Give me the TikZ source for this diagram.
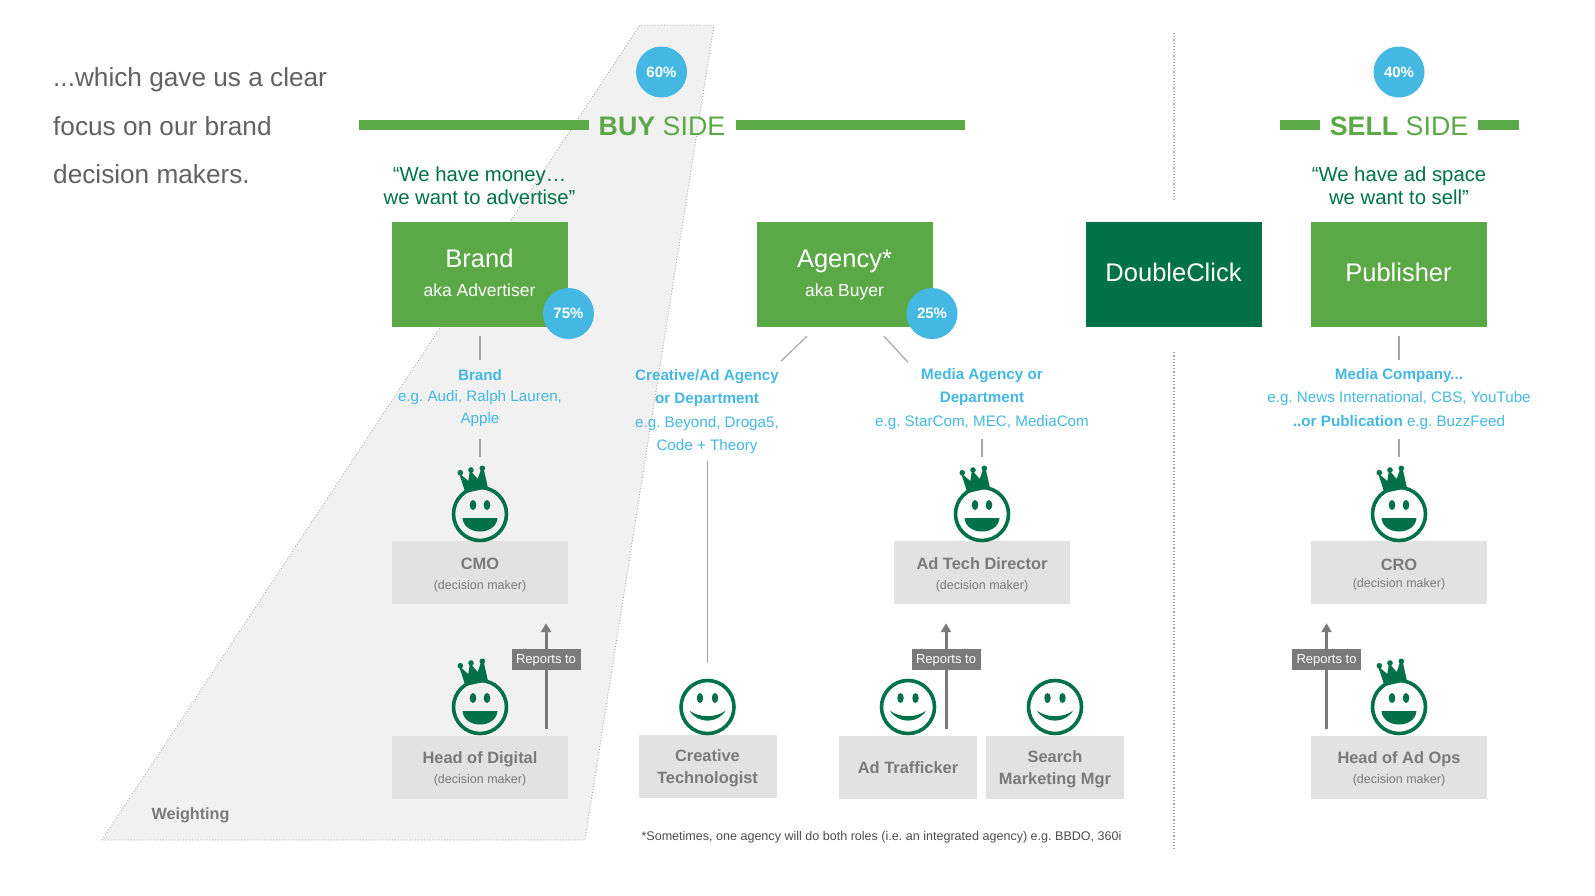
\documentclass[tikz,border=0pt]{standalone}
\usepackage{fontspec}
\setmainfont{Liberation Sans}
\usetikzlibrary{arrows.meta}
\definecolor{leaf}{HTML}{5AA846}
\definecolor{forest}{HTML}{007148}
\definecolor{sky}{HTML}{44B8E2}
\definecolor{panel}{HTML}{E2E2E2}
\definecolor{wedge}{HTML}{F1F1F1}
\definecolor{slate}{HTML}{7A7A7A}

\begin{document}
\frenchspacing
\begin{tikzpicture}
    [
        x = 1pt, y = -1pt,
        every node/.append style = {inner sep = 0, align = center},
        topbox/.style = {minimum width = 176pt, minimum height = 105pt, fill = leaf, text = white},
        wordbox/.style = {topbox, text height = 18pt, text depth = 4pt, font = \fontsize{25.5}{30}\selectfont},
        topname/.style = {anchor = base, text = white, font = \fontsize{25.5}{30}\selectfont},
        topnote/.style = {anchor = base, text = white, font = \fontsize{17.5}{20}\selectfont},
        rolebox/.style = {minimum width = 176pt, minimum height = 63pt, fill = panel},
        smallbox/.style = {minimum width = 138pt, minimum height = 63pt, fill = panel},
        badge/.style = {circle, minimum size = 51pt, fill = sky, text = white, font = \fontsize{15}{18}\selectfont\bfseries},
        quote/.style = {text = forest, font = \fontsize{20.3}{23}\selectfont},
        info/.style = {text = sky, font = \fontsize{15.2}{23.4}\selectfont},
        bar/.style = {leaf, line width = 10pt},
        link/.style = {draw = black!35, line width = 1.2pt},
        divider/.style = {draw = black!35, dotted, line width = 1.2pt},
        reports/.style = {draw = slate, line width = 3pt, -{Triangle[length = 9pt, width = 10pt]}},
        tag/.style = {fill = slate, text = white, minimum width = 69pt, minimum height = 21pt,
                text height = 10.5pt, text depth = 1.5pt, font = \fontsize{13}{15}\selectfont},
        role/.style = {text = slate, font = \fontsize{16.4}{22}\selectfont\bfseries},
        maker/.style = {text = slate, font = \fontsize{12.5}{15}\selectfont},
        plain face/.pic = {
            \draw [forest, line width = 3.6pt] (0, 0) circle (26.5);
            \fill [forest] (-7.5, -9) ellipse (3.2 and 5) (7.5, -9) ellipse (3.2 and 5);
            \fill [forest] (-18, 3.6) .. controls (-9, 11) and (9, 11) .. (18, 3.6)
                .. controls (10, 17) and (-10, 17) .. (-18, 3.6);
        },
        crown face/.pic = {
            \draw [forest, line width = 3.6pt] (0, 0) circle (26.5);
            \fill [forest] (-7, -9) ellipse (3.3 and 5) (7, -9) ellipse (3.3 and 5);
            \fill [forest] (-17.5, 4) -- (17.5, 4) .. controls (16, 22) and (-16, 22) .. (-17.5, 4);
            \fill [forest] (-14.5, -21) -- (-21, -41) -- (-11.7, -33) -- (-10, -44) -- (-2.3, -35) -- (1.5, -46) -- (3.5, -46) -- (8, -26) -- cycle;
            \fill [forest] (-19.7, -41.3) circle (2.8) (-9, -44) circle (2.8) (2.3, -45.7) circle (2.8);
        }]

    \useasboundingbox (0, 0) rectangle (1595, 895);

    % weighting wedge goes under everything else
    \draw [fill = wedge, draw = black!35, dotted, line width = 0.9pt]
        (102, 840) -- (585, 840) -- (714, 25) -- (640, 25) -- cycle;

    \node (headline) at (53, 126) [anchor = west, align = left, text = black!62, font = \fontsize{26.2}{48.5}\selectfont]
        {...which gave us a clear\\focus on our brand\\decision makers.};

    % side banners
    \node (buy) at (662, 126) [text = leaf, font = \fontsize{26.8}{32}\selectfont] {\textbf{BUY} SIDE};
    \node (sell) at (1399, 126) [text = leaf, font = \fontsize{26.8}{32}\selectfont] {\textbf{SELL} SIDE};
    \coordinate (buyleft) at (359, 125);
    \coordinate (buyright) at (965, 125);
    \coordinate (sellleft) at (1280, 125);
    \coordinate (sellright) at (1519, 125);
    \draw [bar] (buyleft) -- ([xshift = -10pt]buy.west |- buyleft);
    \draw [bar] ([xshift = 10pt]buy.east |- buyright) -- (buyright);
    \draw [bar] (sellleft) -- ([xshift = -10pt]sell.west |- sellleft);
    \draw [bar] ([xshift = 10pt]sell.east |- sellright) -- (sellright);
    \node (buyshare) at (661.5, 72) [badge] {60\%};
    \node (sellshare) at (1399, 72) [badge] {40\%};

    \node (buyquote) at (479.5, 186) [quote] {“We have money…\\we want to advertise”};
    \node (sellquote) at (1399, 186) [quote] {“We have ad space\\we want to sell”};

    % top row
    \node (brand) at (480, 274.5) [topbox] {};
    \node (agency) at (844.5, 274.5) [topbox] {};
    \node (doubleclick) at (1173.5, 274.5) [wordbox, fill = forest] {DoubleClick};
    \node (publisher) at (1398.5, 274.5) [wordbox] {Publisher};
    \node (brandname) at (479.5, 267.5) [topname] {Brand};
    \node (brandnote) at (479.5, 296.5) [topnote] {aka Advertiser};
    \node (agencyname) at (844.5, 267.5) [topname] {Agency*};
    \node (agencynote) at (844.5, 296.5) [topnote] {aka Buyer};
    \node (brandshare) at (568.5, 313.5) [badge] {75\%};
    \node (agencyshare) at (932, 313.5) [badge] {25\%};

    \coordinate (divtop) at (1174, 33);
    \coordinate (divbottom) at (1174, 849);
    \draw [divider] (divtop) -- ([yshift = 22pt]doubleclick.north -| divtop);
    \draw [divider] ([yshift = -25pt]doubleclick.south -| divtop) -- (divbottom);

    % descriptions
    \node (brandinfo) at (480, 398) [info, font = \fontsize{15.2}{21.8}\selectfont] {\textbf{Brand}\\e.g. Audi, Ralph Lauren,\\Apple};
    \node (creativeinfo) at (707, 411.5) [info] {\textbf{Creative/Ad Agency}\\\textbf{or Department}\\e.g. Beyond, Droga5,\\Code + Theory};
    \node (mediainfo) at (982, 399) [info] {\textbf{Media Agency or}\\\textbf{Department}\\e.g. StarCom, MEC, MediaCom};
    \node (pubinfo) at (1399, 399) [info] {\textbf{Media Company...}\\e.g. News International, CBS, YouTube\\\textbf{..or Publication} e.g. BuzzFeed};

    % role boxes
    \node (cmo) at (480, 572.5) [rolebox] {};
    \node (adtech) at (982, 572.5) [rolebox] {};
    \node (cro) at (1398.5, 572.5) [rolebox] {};
    \node (digital) at (480, 767) [rolebox] {};
    \node (adops) at (1398.5, 767) [rolebox] {};
    \node (technologist) at (707.5, 766.5) [smallbox] {};
    \node (trafficker) at (908, 767) [smallbox] {};
    \node (searchmgr) at (1055, 767) [smallbox] {};

    \node (technologistname) at (707.5, 768.5) [role] {Creative\\Technologist};
    \node (traffickername) at (908, 768) [role] {Ad Trafficker};
    \node (searchname) at (1055, 769) [role] {Search\\Marketing Mgr};
    \node (cmoname) at (480, 564) [role] {CMO};
    \node (cmonote) at (480, 586) [maker] {(decision maker)};
    \node (adtechname) at (982, 564) [role] {Ad Tech Director};
    \node (adtechnote) at (982, 586) [maker] {(decision maker)};
    \node (croname) at (1399, 565) [role] {CRO};
    \node (cronote) at (1399, 584) [maker] {(decision maker)};
    \node (digitalname) at (480, 759) [role] {Head of Digital};
    \node (digitalnote) at (480, 780) [maker] {(decision maker)};
    \node (adopsname) at (1399, 759) [role] {Head of Ad Ops};
    \node (adopsnote) at (1399, 780) [maker] {(decision maker)};

    % faces
    \pic at (480, 514) {crown face};
    \pic at (982, 514) {crown face};
    \pic at (1399, 514) {crown face};
    \pic at (480, 707) {crown face};
    \pic at (1399, 707) {crown face};
    \pic at (707.5, 707) {plain face};
    \pic at (908, 707) {plain face};
    \pic at (1055, 707) {plain face};

    % links
    \coordinate (creativeend) at (707.5, 663);
    \draw [link] ([yshift = -9pt]brand.south -| brandinfo) -- ([yshift = 9pt]brandinfo.north);
    \draw [link] ([yshift = -12pt]brandinfo.south) -- ([yshift = -30pt]brandinfo.south);
    \draw [link] ([xshift = -37.5pt, yshift = -9pt]agency.south) -- ([xshift = 74pt, yshift = 8pt]creativeinfo.north);
    \draw [link] ([xshift = 39.5pt, yshift = -9pt]agency.south) -- ([xshift = -74pt, yshift = 6pt]mediainfo.north);
    \draw [link] ([yshift = -7pt]creativeinfo.south -| creativeend) -- (creativeend);
    \draw [link] ([yshift = -9pt]mediainfo.south) -- ([yshift = -27pt]mediainfo.south);
    \draw [link] ([yshift = -9pt]publisher.south -| pubinfo) -- ([yshift = 8pt]pubinfo.north);
    \draw [link] ([yshift = -9pt]pubinfo.south) -- ([yshift = -27pt]pubinfo.south);

    % reports to
    \draw [reports] ([shift = {(66, -6)}]digital.north) -- ([shift = {(66, 19)}]cmo.south)
        node (digitaltag) [tag, pos = 0.66] {Reports to};
    \draw [reports] ([shift = {(38, -6)}]trafficker.north) -- ([shift = {(-36, 19)}]adtech.south)
        node (traffickertag) [tag, pos = 0.66] {Reports to};
    \draw [reports] ([shift = {(-72, -6)}]adops.north) -- ([shift = {(-72, 19)}]cro.south)
        node (adopstag) [tag, pos = 0.66] {Reports to};

    \node (weighting) at (190.5, 815) [text = slate, font = \fontsize{16.2}{20}\selectfont\bfseries] {Weighting};
    \node (footnote) at (881.5, 837) [text = black!70, font = \fontsize{12.55}{16}\selectfont]
        {*Sometimes, one agency will do both roles (i.e. an integrated agency) e.g. BBDO, 360i};

\end{tikzpicture}
\end{document}
